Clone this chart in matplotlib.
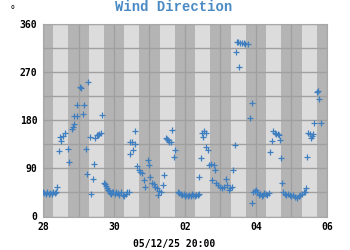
#!/usr/bin/env python3
import matplotlib
matplotlib.use("Agg")
import matplotlib.pyplot as plt
import numpy as np

# days since 28 Nov 2025 00:00, wind direction in degrees
days = [0.00, 0.04, 0.08, 0.12, 0.16, 0.20, 0.24, 0.28, 0.33, 0.37,
        0.40, 0.45, 0.48, 0.51, 0.55, 0.62, 0.70, 0.74, 0.81, 0.84,
        0.86, 0.87, 0.95, 0.97, 1.04, 1.07, 1.12, 1.15, 1.21, 1.23,
        1.28, 1.32, 1.35, 1.40, 1.44, 1.46, 1.51, 1.56, 1.58, 1.62,
        1.67, 1.72, 1.75, 1.77, 1.79, 1.83, 1.86, 1.90, 1.92, 1.95,
        1.98, 2.03, 2.06, 2.10, 2.15, 2.20, 2.25, 2.29, 2.33, 2.38,
        2.41, 2.46, 2.46, 2.51, 2.53, 2.58, 2.60, 2.65, 2.70, 2.74,
        2.79, 2.84, 2.88, 2.96, 2.98, 3.02, 3.07, 3.12, 3.16, 3.21,
        3.24, 3.28, 3.33, 3.37, 3.40, 3.46, 3.50, 3.52, 3.56, 3.61,
        3.63, 3.70, 3.73, 3.80, 3.84, 3.88, 3.92, 3.96, 4.00, 4.04,
        4.08, 4.12, 4.16, 4.20, 4.24, 4.28, 4.32, 4.36, 4.39, 4.40,
        4.44, 4.49, 4.52, 4.54, 4.58, 4.60, 4.65, 4.68, 4.74, 4.77,
        4.82, 4.86, 4.88, 4.93, 4.99, 5.05, 5.10, 5.15, 5.19, 5.24,
        5.28, 5.33, 5.36, 5.40, 5.44, 5.46, 5.50, 5.53, 5.55, 5.60,
        5.65, 5.70, 5.78, 5.83, 5.88, 5.90, 5.93, 5.97, 5.99, 6.04,
        6.08, 6.12, 6.16, 6.20, 6.24, 6.28, 6.32, 6.36, 6.39, 6.44,
        6.49, 6.54, 6.56, 6.61, 6.65, 6.68, 6.70, 6.74, 6.77, 6.81,
        6.85, 6.90, 6.95, 7.00, 7.05, 7.10, 7.15, 7.20, 7.25, 7.30,
        7.35, 7.38, 7.41, 7.45, 7.47, 7.52, 7.55, 7.57, 7.61, 7.64,
        7.71, 7.76, 7.78, 7.83]
direction = [45, 44, 43, 45, 42, 44, 43, 45, 44, 46,
             56, 122, 149, 142, 150, 157, 127, 101, 163, 168,
             173, 188, 208, 188, 243, 240, 191, 208, 127, 79,
             251, 149, 43, 71, 98, 147, 152, 152, 155, 156,
             189, 62, 60, 57, 53, 50, 48, 44, 43, 45,
             45, 42, 46, 44, 41, 45, 40, 38, 42, 45,
             46, 116, 140, 140, 124, 136, 160, 94, 87, 84,
             81, 68, 56, 106, 96, 74, 62, 60, 56, 53,
             40, 48, 45, 59, 78, 146, 145, 143, 140, 140,
             162, 111, 124, 46, 44, 42, 40, 43, 38, 40,
             38, 41, 39, 42, 40, 38, 41, 40, 43, 74,
             109, 156, 149, 159, 156, 130, 124, 96, 98, 68,
             96, 87, 62, 59, 56, 53, 56, 71, 59, 50,
             53, 56, 87, 134, 308, 327, 327, 280, 325, 325,
             324, 323, 322, 184, 213, 26, 45, 48, 50, 45,
             40, 42, 38, 40, 44, 42, 40, 44, 120, 141,
             160, 157, 154, 155, 153, 143, 109, 62, 45, 42,
             40, 42, 40, 38, 40, 36, 35, 38, 40, 42,
             45, 46, 53, 112, 157, 154, 147, 151, 154, 174,
             232, 235, 220, 174]

tick_pos = [0, 2, 4, 6, 8]
tick_labels = ["28", "30", "02", "04", "06"]
y_ticks = [0, 90, 180, 270, 360]
sunrise, sunset = 0.29, 0.71   # fraction of day that is light

mono = "DejaVu Sans Mono"

fig = plt.figure(figsize=(3.5, 2.5), dpi=100)
ax = fig.add_axes([0.123, 0.134, 0.811, 0.770])

ax.set_facecolor("#b4b4b4")
for d in range(8):
    ax.axvspan(d + sunrise, d + sunset, color="#dcdcdc", lw=0, zorder=0)

ax.plot(days, direction, ls="none", marker="+", ms=5, mew=0.9,
        color="#3f7fbf", zorder=3)

ax.set_xlim(0, 8)
ax.set_ylim(0, 360)
ax.set_xticks(tick_pos)
ax.set_xticklabels(tick_labels)
ax.set_xticks(range(9), minor=True)
ax.set_yticks(y_ticks)
ax.set_yticks(np.arange(0, 361, 45), minor=True)
ax.grid(which="both", color="#a0a0a0", lw=1, zorder=1)
ax.set_axisbelow(True)
ax.tick_params(which="both", length=0)
ax.tick_params(axis="x", pad=4)
ax.tick_params(axis="y", pad=4)
for lab in ax.get_xticklabels() + ax.get_yticklabels():
    lab.set_fontfamily(mono)
    lab.set_fontweight("bold")
    lab.set_fontsize(7)
for s in ax.spines.values():
    s.set_color("#a8a8a8")

fig.text(0.497, 0.972, "Wind Direction", ha="center", va="center",
         family="Liberation Mono", weight="bold", fontsize=10, color="#4a8ac4")
fig.text(0.037, 0.96, "°", ha="center", va="center", family=mono, fontsize=7)
fig.text(0.497, 0.025, "05/12/25 20:00", ha="center", va="center",
         family=mono, weight="bold", fontsize=7)

fig.savefig("out.png", dpi=100)
